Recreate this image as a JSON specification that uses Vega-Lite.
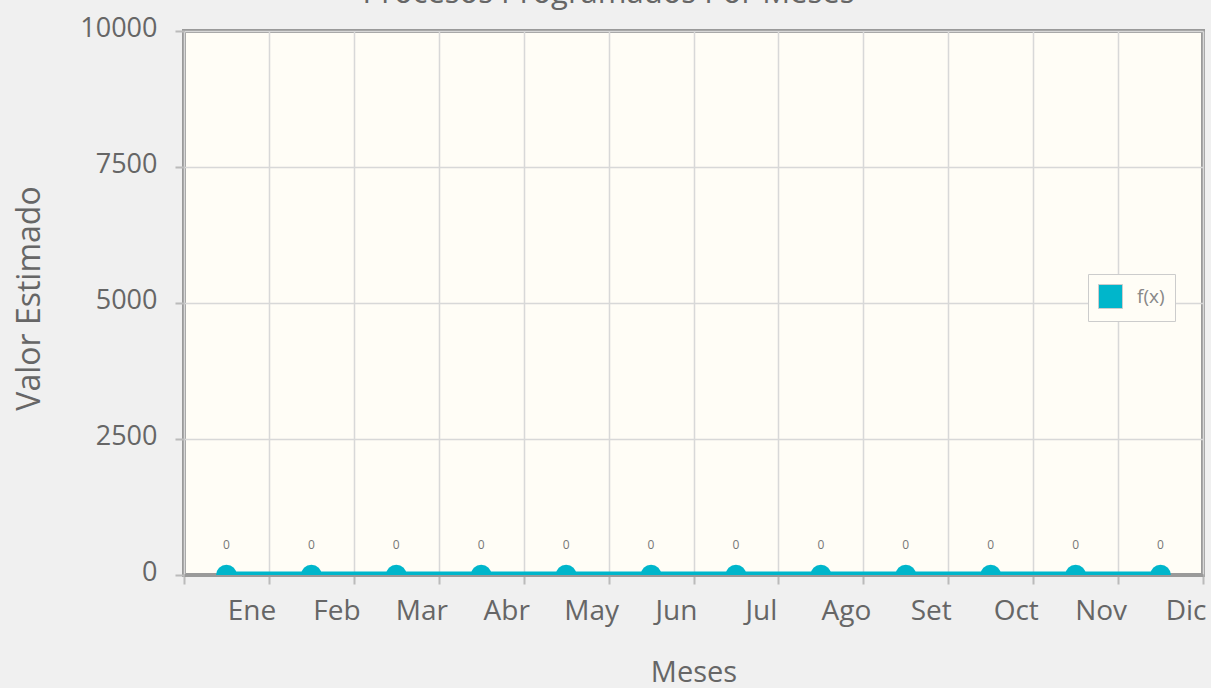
{
  "$schema": "https://vega.github.io/schema/vega-lite/v6.json",
  "width": 1019,
  "height": 544,
  "autosize": {"type": "none"},
  "padding": {"left": 184, "top": 31, "right": 8, "bottom": 113},
  "background": "#f0f0f0",
  "title": {
    "text": "Procesos Programados Por Meses",
    "anchor": "middle",
    "frame": "group",
    "dx": -85,
    "dy": 27,
    "offset": 7,
    "baseline": "alphabetic",
    "fontSize": 31,
    "font": "Open Sans",
    "fontWeight": "normal",
    "color": "#666666"
  },
  "config": {
    "view": {"fill": "#fffdf6", "stroke": "#9a9a9a", "strokeWidth": 4},
    "font": "Open Sans"
  },
  "data": {
    "values": [
      {"mes": "Ene", "valor": 0, "serie": "f(x)"},
      {"mes": "Feb", "valor": 0, "serie": "f(x)"},
      {"mes": "Mar", "valor": 0, "serie": "f(x)"},
      {"mes": "Abr", "valor": 0, "serie": "f(x)"},
      {"mes": "May", "valor": 0, "serie": "f(x)"},
      {"mes": "Jun", "valor": 0, "serie": "f(x)"},
      {"mes": "Jul", "valor": 0, "serie": "f(x)"},
      {"mes": "Ago", "valor": 0, "serie": "f(x)"},
      {"mes": "Set", "valor": 0, "serie": "f(x)"},
      {"mes": "Oct", "valor": 0, "serie": "f(x)"},
      {"mes": "Nov", "valor": 0, "serie": "f(x)"},
      {"mes": "Dic", "valor": 0, "serie": "f(x)"}
    ]
  },
  "encoding": {
    "x": {
      "field": "mes",
      "type": "nominal",
      "sort": null,
      "scale": {"paddingInner": 0, "paddingOuter": 0},
      "axis": {
        "title": "Meses",
        "titleFontSize": 29,
        "titleFontWeight": "normal",
        "titleColor": "#666666",
        "titleY": 106,
        "titleBaseline": "alphabetic",
        "labelAngle": 0,
        "labelFontSize": 28,
        "labelColor": "#666666",
        "labelOffset": 25,
        "labelPadding": 13,
        "tickBand": "extent",
        "tickSize": 9,
        "tickColor": "#bbbbbb",
        "tickWidth": 2,
        "grid": true,
        "gridColor": "#d8d8d8",
        "gridWidth": 1.5,
        "domainColor": "#9a9a9a",
        "domainWidth": 3
      }
    },
    "y": {
      "field": "valor",
      "type": "quantitative",
      "scale": {"domain": [0, 10000], "nice": false},
      "axis": {
        "title": "Valor Estimado",
        "titleFontSize": 32,
        "titleFontWeight": "normal",
        "titleColor": "#666666",
        "titleX": -155,
        "titleY": 267,
        "titleBaseline": "middle",
        "values": [0, 2500, 5000, 7500, 10000],
        "format": "d",
        "labelFontSize": 27,
        "labelColor": "#666666",
        "labelPadding": 18,
        "labelOffset": -3,
        "tickSize": 9,
        "tickColor": "#bbbbbb",
        "tickWidth": 2,
        "grid": true,
        "gridColor": "#d8d8d8",
        "gridWidth": 1.5,
        "domain": false
      }
    }
  },
  "layer": [
    {
      "mark": {"type": "line", "color": "#00b6cb", "strokeWidth": 7, "clip": true}
    },
    {
      "mark": {"type": "point", "filled": true, "opacity": 1, "size": 430, "clip": true},
      "encoding": {
        "color": {
          "field": "serie",
          "type": "nominal",
          "scale": {"range": ["#00b6cb"]},
          "legend": {
            "title": null,
            "orient": "none",
            "legendX": 904,
            "legendY": 243,
            "symbolType": "square",
            "symbolSize": 576,
            "symbolStrokeColor": "#cccccc",
            "symbolStrokeWidth": 1,
            "labelFontSize": 19,
            "labelColor": "#888888",
            "labelOffset": 14,
            "strokeColor": "#cccccc",
            "fillColor": "#fffdf6",
            "padding": 10
          }
        }
      }
    },
    {
      "mark": {"type": "text", "dy": -30, "fontSize": 12, "color": "#777777", "baseline": "middle"},
      "encoding": {"text": {"field": "valor", "type": "quantitative"}}
    }
  ]
}
